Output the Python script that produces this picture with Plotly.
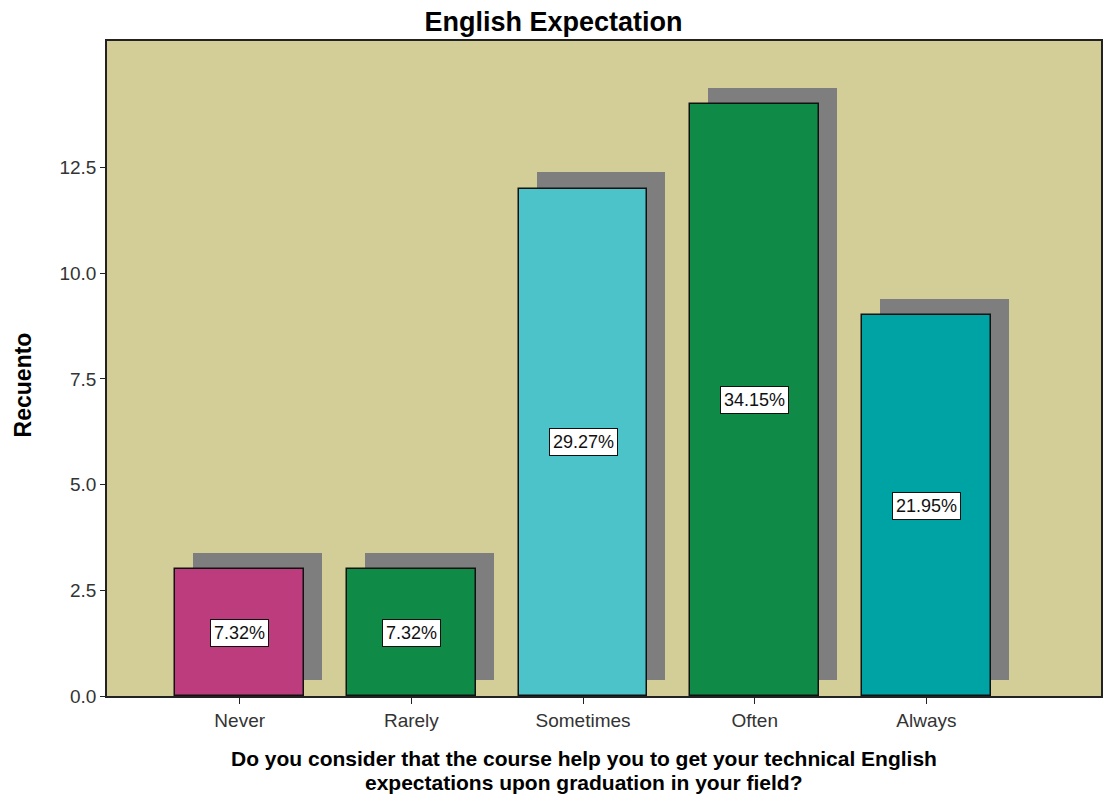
import plotly.graph_objects as go

# datos
categorias = ["Never", "Rarely", "Sometimes", "Often", "Always"]
recuento = [3, 3, 12, 14, 9]
porcentajes = ["7.32%", "7.32%", "29.27%", "34.15%", "21.95%"]
colores = ["#bd3c7d", "#0f8b47", "#4cc3c8", "#0f8b47", "#00a3a3"]
y_ticks = [0, 2.5, 5.0, 7.5, 10.0, 12.5]
titulo_x = ["Do you consider that the course help you to get your technical English",
            "expectations upon graduation in your field?"]

posiciones = list(range(len(categorias)))
desplaz_x = 0.105   # sombra hacia la derecha
desplaz_y = 0.39    # sombra hacia arriba

fig = go.Figure()

# sombra gris detras de cada barra
fig.add_trace(go.Bar(
    x=[p + desplaz_x for p in posiciones], y=recuento, base=desplaz_y,
    width=0.75, marker=dict(color="#7e7e7e", line=dict(width=0)),
    hoverinfo="skip", showlegend=False,
))

fig.add_trace(go.Bar(
    x=posiciones, y=recuento, width=0.75,
    marker=dict(color=colores, line=dict(color="#111111", width=1.5)),
    showlegend=False,
))

# etiquetas de porcentaje en el centro de cada barra
for p, v, t in zip(posiciones, recuento, porcentajes):
    fig.add_annotation(
        x=p, y=v / 2, text=t, showarrow=False,
        font=dict(family="Arial", size=18, color="#111111"),
        bgcolor="white", bordercolor="#111111", borderwidth=1, borderpad=3,
    )

# titulo del eje x en dos lineas (interlineado mas apretado)
for i, linea in enumerate(titulo_x):
    fig.add_annotation(
        xref="paper", yref="paper", x=0.48, xanchor="center",
        y=-(62 + i * 24) / 655, yanchor="middle", borderpad=0,
        text="<b>" + linea + "</b>", showarrow=False,
        font=dict(family="Arial", size=21, color="black"),
    )
fig.add_annotation(
    xref="paper", yref="paper", x=-0.085, xanchor="center", y=0.475, yanchor="middle",
    textangle=-90, text="<b>Recuento</b>", showarrow=False,
    font=dict(family="Arial", size=23, color="black"),
)

fig.update_layout(
    width=1107, height=798,
    margin=dict(l=107, r=4, t=41, b=102),
    paper_bgcolor="white", plot_bgcolor="#d3ce98",
    barmode="overlay", bargap=0,
    title=dict(text="<b>English Expectation</b>", x=0.5, xref="container",
               y=1 - 22 / 798, yref="container", yanchor="middle",
               font=dict(family="Arial", size=27, color="black")),
    xaxis=dict(
        range=[-0.773, 5.017], tickmode="array", tickvals=posiciones, ticktext=categorias,
        showgrid=False, zeroline=False, showline=True, linecolor="#222222", linewidth=1.5,
        mirror=True, ticks="outside", ticklen=6, tickcolor="#222222",
        tickfont=dict(family="Arial", size=19, color="#333333"),
    ),
    yaxis=dict(
        range=[0, 15.49], tickmode="array", tickvals=y_ticks, tickformat=".1f",
        showgrid=False, zeroline=False, showline=True, linecolor="#222222", linewidth=1.5,
        mirror=True, ticks="outside", ticklen=5, tickcolor="#222222",
        tickfont=dict(family="Arial", size=19, color="#333333"),
    ),
)

# quitar el margen del body para que el grafico quede en (0, 0)
fig.write_html("out.html", config={"displayModeBar": False},
               post_script="document.body.style.margin='0px';")
